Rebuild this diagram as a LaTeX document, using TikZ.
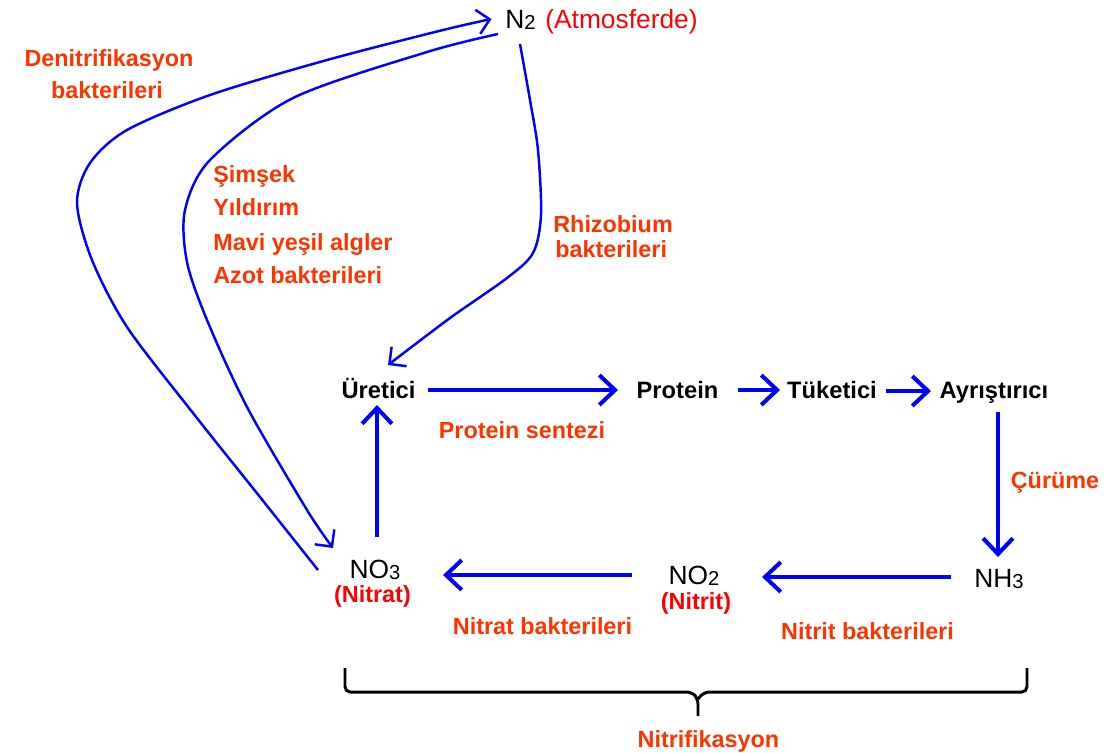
\documentclass[tikz,border=0pt]{standalone}
\usepackage{fontspec}
\setmainfont{Liberation Sans}
\usetikzlibrary{arrows.meta,calc}
\definecolor{lab}{HTML}{FF3300}
\definecolor{arr}{HTML}{0000FF}
\definecolor{pr}{HTML}{FF0000}
\newcommand\dsub[1]{\raisebox{-0.6pt}{\fontsize{11.5}{12}\selectfont #1}}
\begin{document}
\begin{tikzpicture}[x=0.02cm,y=-0.02cm,
 lbl/.style={font=\bfseries\fontsize{13.3}{16}\selectfont, text=lab, inner sep=0pt, anchor=base},
 blk/.style={font=\bfseries\fontsize{13.5}{16}\selectfont, text=black, inner sep=0pt, anchor=base},
 chem/.style={font=\fontsize{15}{18}\selectfont, inner sep=0pt, anchor=base, text depth=0pt},
 paren/.style={font=\bfseries\fontsize{13.3}{16}\selectfont, text=pr, inner sep=0pt, anchor=base},
 big/.style={draw=arr, line width=2.3pt, -{Straight Barb[length=9pt,width=17pt]}},
 thinarr/.style={draw=arr, line width=1.4pt, -{Straight Barb[length=7pt,width=14pt]}},
 bracestyle/.style={draw=black, line width=1.7pt, rounded corners=3pt},
]
\useasboundingbox (0,0) rectangle (1107,752);

% nodes
\node[chem] (n2) at (520.5,28) {N\dsub{2}};
\node[chem, text=pr, anchor=base west] (atm) at (545,28) {(Atmosferde)};
\node[lbl] (den1) at (109,66) {Denitrifikasyon};
\node[lbl] (den2) at (107,98) {bakterileri};
\node[lbl, anchor=base west] (s1) at (213,182) {Şimşek};
\node[lbl, anchor=base west] (s2) at (213,215) {Yıldırım};
\node[lbl, anchor=base west] (s3) at (213,250) {Mavi yeşil algler};
\node[lbl, anchor=base west] (s4) at (213,283) {Azot bakterileri};
\node[lbl, anchor=base west] (rh1) at (553,232) {Rhizobium};
\node[lbl, anchor=base west] (rh2) at (555,257) {bakterileri};
\node[blk] (ure) at (378.5,398) {Üretici};
\node[blk] (pro) at (677.5,398) {Protein};
\node[blk] (tuk) at (832,398) {Tüketici};
\node[blk] (ayr) at (994,398) {Ayrıştırıcı};
\node[lbl] (ps) at (522,438) {Protein sentezi};
\node[lbl] (cur) at (1055,488) {Çürüme};
\node[chem] (nh3) at (999,587) {NH\dsub{3}};
\node[chem] (no2) at (694,584) {NO\dsub{2}};
\node[paren] (nit2) at (696,609) {(Nitrit)};
\node[chem] (no3) at (375,578) {NO\dsub{3}};
\node[paren] (nit3) at (372.5,602) {(Nitrat)};
\node[lbl] (nb) at (542.5,634) {Nitrat bakterileri};
\node[lbl] (nib) at (867.5,639) {Nitrit bakterileri};
\node[lbl] (nf) at (708.5,747) {Nitrifikasyon};

% main straight arrows
\draw[big] ($(ure.base)+(49.5,-8)$) -- ($(pro.base)+(-59.5,-8)$);
\draw[big] ($(pro.base)+(60.5,-8)$) -- ($(tuk.base)+(-52,-8)$);
\draw[big] ($(tuk.base)+(54,-7)$) -- ($(ayr.base)+(-63,-7)$);
\draw[big] ($(ayr.base)+(4,14)$) -- ($(nh3.base)+(-1,-30)$);
\draw[big] ($(nh3.base)+(-48,-10)$) -- ($(no2.base)+(68,-7)$);
\draw[big] ($(no2.base)+(-62,-9)$) -- ($(no3.base)+(68,-3)$);
\draw[big] ($(no3.base)+(2,-41)$) -- ($(ure.base)+(-1.5,7)$);

% curved arrows
\coordinate (aS) at ($(no3.base)+(-57,-8)$);
\coordinate (aE) at ($(n2.base)+(-29,-9)$);
\draw[thinarr] plot[smooth] coordinates {(aS) (260,497) (193,413) (127,327) (92,260) (77,203) (90,163) (127,130) (210,95) (327,60) (443,30) (aE)};

\coordinate (bS) at ($(n2.base)+(-22.5,6)$);
\coordinate (bE) at ($(no3.base)+(-42,-30)$);
\draw[thinarr] plot[smooth] coordinates {(bS) (427,52) (293,98) (210,160) (185,210) (187,262) (207,320) (247,407) (307,510) (bE)};

\coordinate (cS) at ($(n2.base)+(-0.5,16)$);
\coordinate (cE) at ($(ure.base)+(9.5,-33)$);
\draw[thinarr] plot[smooth] coordinates {(cS) (530,100) (538,150) (541,215) (533,253) (507,278) (450,318) (cE)};

% brace
\draw[bracestyle] (345,668) -- (345,692) -- (692,692) -- (698,699) -- (698,716);
\draw[bracestyle] (1027,668) -- (1027,692) -- (704,692) -- (698,699);
\end{tikzpicture}
\end{document}
